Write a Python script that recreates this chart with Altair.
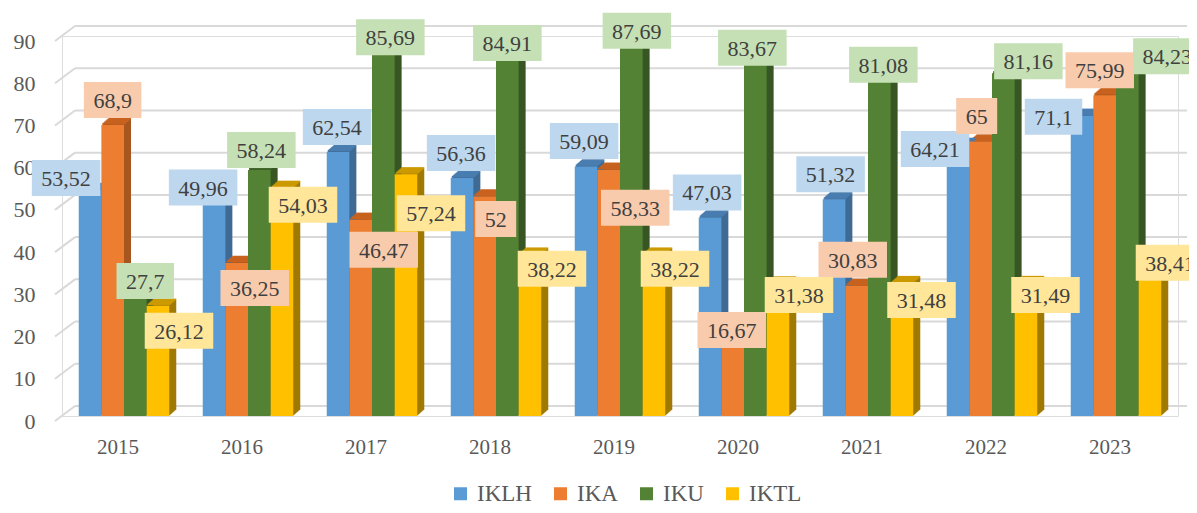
import altair as alt
import pandas as pd

# ---------------- data ----------------
years = ["2015", "2016", "2017", "2018", "2019", "2020", "2021", "2022", "2023"]
series = ["IKLH", "IKA", "IKU", "IKTL"]
iklh = [53.52, 49.96, 62.54, 56.36, 59.09, 47.03, 51.32, 64.21, 71.1]
ika = [68.9, 36.25, 46.47, 52, 58.33, 16.67, 30.83, 65, 75.99]
iku = [27.7, 58.24, 85.69, 84.91, 87.69, 83.67, 81.08, 81.16, 84.23]
iktl = [26.12, 54.03, 57.24, 38.22, 38.22, 31.38, 31.48, 31.49, 38.41]
y_ticks = [0, 10, 20, 30, 40, 50, 60, 70, 80, 90]

# ---------------- styling ----------------
front_colors = ["#5B9BD5", "#ED7D31", "#548235", "#FFC000"]
side_colors = ["#3E6A94", "#A85620", "#375623", "#A07A00"]
top_colors = ["#4A7DB0", "#C8621F", "#45692C", "#CC9A00"]
box_colors = ["#BDD7EE", "#F8CBAD", "#C5E0B4", "#FFE699"]
FONT = "Liberation Serif"
TXT = "#404040"
AX = "#595959"

# label nudges (px) of each label box centre from the top-centre of its bar
lab_dx = {
    "IKLH": [-24, -11, -1, -1, -2, -3, -3.5, -23, -28.5],
    "IKA": [0, 18, 23, 11, 26.5, -1, -4, -4, -5],
    "IKU": [10, 2, 7, 0, 5.5, -3, 4, 25, 40],
    "IKTL": [21, 21, 25, 22, 21, 21, 19.5, 19.5, 20],
}
lab_dy = {
    "IKLH": [-12, -17.5, -25, -25, -25.5, -25, -25, 4, 1],
    "IKA": [-25, 25, 30, 22.5, 38, -15.6, -26, -25.5, -25],
    "IKU": [-18, -20, -17, -14.5, -15, -15, -9, -12, -4],
    "IKTL": [25, 17, 39, 14, 14, 11.5, 17, 12, 9],
}

W, H = 1116, 380
YMAX = 90
PAD_IN = 0.27
STEP = W / len(years)
BW = STEP * (1 - PAD_IN)
SUB = BW / len(series)
LFS = 22  # label font size
DEPTH_X, DEPTH_Y, NSTEP = 7, 6, 7

values = [iklh, ika, iku, iktl]
rows = []
for k, s in enumerate(series):
    for g, yr in enumerate(years):
        v = values[k][g]
        lab = f"{v:g}".replace(".", ",")
        tw = sum(LFS * (0.25 if c == "," else 0.5) for c in lab)
        bw = tw + 19
        rows.append(dict(
            year=yr, series=s, value=v, label=lab,
            front=front_colors[k], side=side_colors[k], top=top_colors[k],
            boxc=box_colors[k],
            ox=(k + 0.5) * SUB + lab_dx[s][g],
            oy=lab_dy[s][g],
            box=f"M{-bw/2:.1f},-18h{bw:.1f}v36h{-bw:.1f}Z",
        ))
df = pd.DataFrame(rows)
grid_df = pd.DataFrame({"value": y_ticks})

xscale = alt.Scale(domain=years, paddingInner=PAD_IN, paddingOuter=PAD_IN / 2)
yscale = alt.Scale(domain=[0, YMAX], nice=False, zero=True)
x_axis = alt.Axis(ticks=False, domain=False, grid=False, labelAngle=0,
                  labelFont=FONT, labelFontSize=21, labelColor=AX,
                  labelPadding=20, labelOffset=-6)
y_axis = alt.Axis(values=y_ticks, ticks=False, domain=False, grid=False,
                  labelFont=FONT, labelFontSize=22, labelColor=AX,
                  labelPadding=27, labelOffset=5)
X0 = alt.X("year:N", scale=xscale, axis=x_axis, title=None)
Y0 = alt.Y("value:Q", scale=yscale, axis=y_axis, title=None)


def xoff(dx):
    return alt.XOffset("series:N", sort=series,
                       scale=alt.Scale(domain=series, range=[dx, dx + BW],
                                       paddingInner=0, paddingOuter=0))


layers = []
# gridlines (back wall) + diagonal floor-to-wall lines
layers.append(alt.Chart(grid_df).mark_rule(color="#D9D9D9", strokeWidth=2, yOffset=-10).encode(
    x=alt.value(13), x2=alt.value(W + 9), y=Y0))
layers.append(alt.Chart(grid_df).mark_rule(color="#D9D9D9", strokeWidth=2, yOffset=5, y2Offset=-10).encode(
    x=alt.value(-7), x2=alt.value(13), y=Y0, y2=alt.Y2("value:Q")))

# side extrusion
for i in range(1, NSTEP + 1):
    dx = DEPTH_X * i / NSTEP
    dy = -DEPTH_Y * i / NSTEP
    layers.append(alt.Chart(df).mark_bar(yOffset=dy, y2Offset=dy).encode(
        x=X0, xOffset=xoff(dx), y=Y0, color=alt.Color("side:N", scale=None)))
# top caps
for i in range(1, NSTEP + 1):
    dx = DEPTH_X * i / NSTEP
    dy = -DEPTH_Y * i / NSTEP
    layers.append(alt.Chart(df).mark_bar(yOffset=dy - 1.2, y2Offset=dy + 0.3).encode(
        x=X0, xOffset=xoff(dx), y=Y0, y2=alt.Y2("value:Q"),
        color=alt.Color("top:N", scale=None)))

# front faces + legend
front = alt.Chart(df).mark_bar().encode(
    x=X0,
    xOffset=xoff(0),
    y=Y0,
    color=alt.Color("series:N", sort=series,
                    scale=alt.Scale(domain=series, range=front_colors),
                    legend=alt.Legend(orient="none", legendX=387, legendY=446,
                                      direction="horizontal", title=None,
                                      symbolType="square", symbolSize=169,
                                      symbolStrokeWidth=0,
                                      labelFont=FONT, labelFontSize=23,
                                      labelColor=AX, columnPadding=17,
                                      labelOffset=5)),
)
layers.append(front)

# label boxes and texts (nudged from the bar tops)
XO = alt.XOffset("ox:Q", scale=None)
YL = alt.Y("ly:Q", scale=yscale, axis=y_axis, title=None)
lab_base = alt.Chart(df).transform_calculate(
    ly=f"datum.value - datum.oy * {YMAX} / {H}")
layers.append(lab_base.mark_point(filled=True, opacity=1, strokeWidth=0).encode(
    x=X0, xOffset=XO, y=YL,
    shape=alt.Shape("box:N", scale=None),
    size=alt.value(4),
    color=alt.Color("boxc:N", scale=None)))
layers.append(lab_base.mark_text(font=FONT, fontSize=LFS, color=TXT,
                                 align="center", baseline="middle", dy=1).encode(
    x=X0, xOffset=XO, y=YL, text="label:N"))

chart = alt.layer(*layers).resolve_scale(
    xOffset="independent", color="independent"
).properties(
    width=W, height=H,
    autosize=alt.AutoSizeParams(type="none"),
    padding={"left": 54, "top": 28, "right": 11, "bottom": 89},
).configure_view(stroke=None).configure_legend(
    labelFont=FONT, labelFontSize=23, labelColor=AX
).configure(font=FONT)

chart.save("out.html", embed_options={"renderer": "svg", "actions": False})
